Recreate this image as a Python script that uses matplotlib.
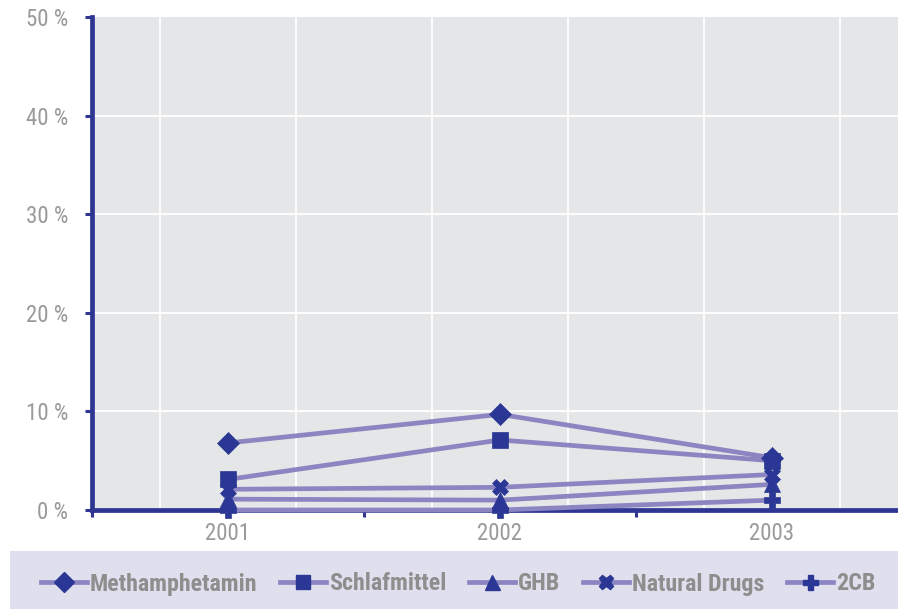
import matplotlib
matplotlib.use("Agg")
import matplotlib.pyplot as plt
from matplotlib import font_manager
from matplotlib.lines import Line2D
from matplotlib.patches import Rectangle

# Share of users per substance and year (percent)
years = ["2001", "2002", "2003"]
methamphetamin = [6.8, 9.7, 5.3]
schlafmittel = [3.1, 7.1, 5.0]
ghb = [1.1, 1.0, 2.6]
natural_drugs = [2.1, 2.3, 3.6]
cb2 = [0.0, 0.0, 1.0]
series_names = ["Methamphetamin", "Schlafmittel", "GHB", "Natural Drugs", "2CB"]
y_ticks = [0, 10, 20, 30, 40, 50]
y_tick_labels = ["0 %", "10 %", "20 %", "30 %", "40 %", "50 %"]

series = [methamphetamin, schlafmittel, ghb, natural_drugs, cb2]
markers = ["D", "s", "^", "X", "P"]
marker_sizes = [11, 11, 12, 11.5, 12]

LINE = "#8B86C2"
MARK = "#2B3794"
AXIS = "#2E3593"
PLOT_BG = "#E5E6E8"
LEGEND_BG = "#E0DFEE"
TICK_TXT = "#9A9A9A"
LEG_TXT = "#8E8E8E"

available = {f.name for f in font_manager.fontManager.ttflist}
family, stretch = "DejaVu Sans", "condensed"
for cand in ["Liberation Sans Narrow", "Roboto Condensed", "Open Sans Condensed"]:
    if cand in available:
        family, stretch = cand, "normal"
        break

W, H = 898, 609
fig = plt.figure(figsize=(W / 100, H / 100), dpi=100)
fig.patch.set_facecolor("white")

left, right, bottom, top = 92, 898, 510, 17
ax = fig.add_axes([left / W, (H - bottom) / H, (right - left) / W, (bottom - top) / H])
ax.set_facecolor(PLOT_BG)

x = [1, 2, 3]
ax.set_xlim(0.5, 0.5 + (right - left) / 272)
ax.set_ylim(0, 50)

# white grid
for gx in [0.75, 1.25, 1.75, 2.25, 2.75, 3.25]:
    ax.axvline(gx, color="white", lw=1.3, zorder=1)
for gy in y_ticks[1:-1]:
    ax.axhline(gy, color="white", lw=1.3, zorder=1)

# lines first, markers on top
for vals in series:
    ax.plot(x, vals, color=LINE, lw=3.4, solid_capstyle="butt", zorder=4, clip_on=False)
for vals, m, ms in zip(series, markers, marker_sizes):
    ax.plot(x, vals, linestyle="none", marker=m, ms=ms, color=MARK,
            markeredgecolor=MARK, markeredgewidth=0.5, zorder=5, clip_on=False)

for s in ["top", "right"]:
    ax.spines[s].set_visible(False)
for s in ["left", "bottom"]:
    ax.spines[s].set_color(AXIS)
    ax.spines[s].set_linewidth(3.4)
    ax.spines[s].set_zorder(3)

ax.set_yticks(y_ticks)
ax.set_yticklabels(y_tick_labels)
ax.tick_params(axis="y", direction="out", length=5, width=2.2, color=AXIS, pad=12,
               labelsize=16.5, labelcolor=TICK_TXT)
ax.set_xticks([0.5, 1.5, 2.5])
ax.set_xticklabels([])
ax.tick_params(axis="x", which="major", direction="out", length=5, width=2.2, color=AXIS)
ax.set_xticks(x, minor=True)
ax.set_xticklabels(years, minor=True)
ax.tick_params(axis="x", which="minor", length=0, pad=9, labelsize=16.5, labelcolor=TICK_TXT)
for lab in ax.get_xticklabels(minor=True) + ax.get_yticklabels():
    lab.set_family(family)
    lab.set_stretch(stretch)

# legend panel
fig.patches.append(Rectangle((10 / W, 0), (W - 10) / W, (H - 551) / H,
                             transform=fig.transFigure, facecolor=LEGEND_BG,
                             edgecolor="none", zorder=0))
handles = [Line2D([0], [0], color=LINE, lw=3.4, marker=m, ms=ms * 0.9, markerfacecolor=MARK,
                  markeredgecolor=MARK) for m, ms in zip(markers, marker_sizes)]
leg = fig.legend(handles, series_names, loc="center", bbox_to_anchor=(458 / W, (H - 584) / H),
                 ncol=5, frameon=False, handlelength=1.9, handletextpad=0.13,
                 columnspacing=0.95, prop=dict(family=family, stretch=stretch,
                                               weight="bold", size=17.3))
for t in leg.get_texts():
    t.set_color(LEG_TXT)

fig.savefig("out.png", dpi=100, facecolor="white")
